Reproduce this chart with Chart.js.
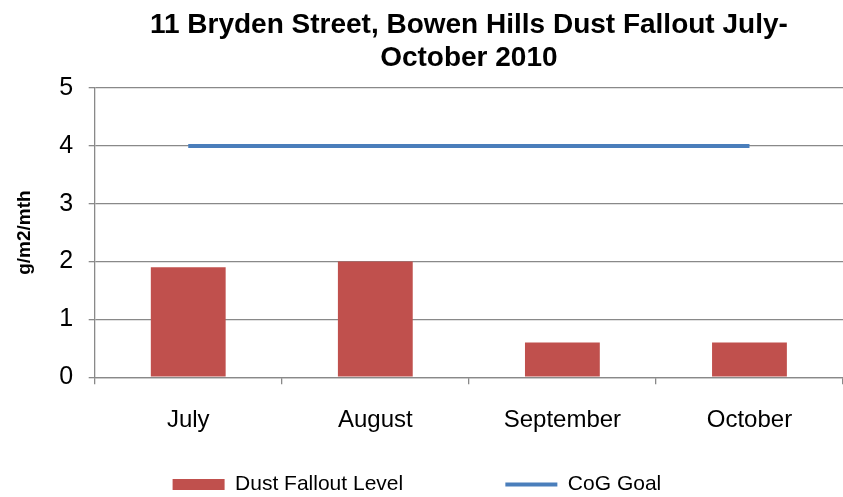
<!DOCTYPE html>
<html>
<head>
<meta charset="utf-8">
<script src="https://cdn.jsdelivr.net/npm/chart.js@4"></script>
<style>
  html, body { margin: 0; padding: 0; background: #fff; }
  #wrap { width: 843px; height: 497px; }
</style>
</head>
<body>
<div id="wrap"><canvas id="dustChart" width="843" height="497"></canvas></div>
<script>
// chart data
const months = ['July', 'August', 'September', 'October'];
const dustLevels = [1.9, 2.0, 0.6, 0.6];
const cogGoal = [4, 4, 4, 4];
const yTicks = [0, 1, 2, 3, 4, 5];

const gridGray = '#898989';
const fontFamily = '"Liberation Sans", Arial, sans-serif';

const ctx = document.getElementById('dustChart').getContext('2d');

new Chart(ctx, {
    data: {
        labels: months,
        datasets: [{
            type: 'line',
            label: 'CoG Goal',
            data: cogGoal,
            borderColor: '#4a7ebb',
            backgroundColor: '#4a7ebb',
            borderWidth: 4,
            pointRadius: 0,
            pointStyle: 'line',
            order: 0
        }, {
            type: 'bar',
            label: 'Dust Fallout Level',
            data: dustLevels,
            backgroundColor: '#c0504d',
            borderWidth: 0,
            categoryPercentage: 1,
            barPercentage: 0.4,
            order: 1
        }]
    },
    options: {
        responsive: false,
        animation: false,
        layout: {
            padding: { left: 13, right: -7, top: 0, bottom: -8 }
        },
        plugins: {
            title: {
                display: true,
                fullSize: false,
                text: ['11 Bryden Street, Bowen Hills Dust Fallout July-', 'October 2010'],
                color: '#000',
                font: { family: fontFamily, size: 28, weight: 'bold', lineHeight: 1.18 },
                padding: { top: 9, bottom: 13 }
            },
            legend: {
                position: 'bottom',
                reverse: true,
                labels: {
                    color: '#000',
                    font: { family: fontFamily, size: 21 },
                    usePointStyle: true,
                    pointStyleWidth: 52,
                    boxHeight: 11,
                    padding: 3,
                    generateLabels: function(chart) {
                        const items = Chart.defaults.plugins.legend.labels.generateLabels(chart);
                        // spacing to place the two entries like the original
                        items.forEach(function(item) {
                            if (item.text === 'Dust Fallout Level') {
                                item.pointStyle = 'rect';
                                item.lineWidth = 0;
                                item.text = item.text + '\u00a0'.repeat(17);
                            } else {
                                item.pointStyle = 'line';
                                item.lineWidth = 4;
                                item.text = item.text + '\u00a0'.repeat(5);
                            }
                        });
                        return items;
                    }
                }
            },
            tooltip: { enabled: false }
        },
        scales: {
            x: {
                offset: true,
                grid: {
                    offset: true,
                    drawOnChartArea: false,
                    color: gridGray,
                    lineWidth: 1.3,
                    tickLength: 7
                },
                border: { color: gridGray, width: 1.3 },
                ticks: {
                    color: '#000',
                    padding: 22,
                    font: { family: fontFamily, size: 24 }
                },
                afterFit: function(axis) {
                    // extra room between month labels and legend
                    axis.height += 14;
                }
            },
            y: {
                min: 0,
                max: 5,
                afterBuildTicks: function(axis) {
                    axis.ticks = yTicks.map(v => ({ value: v }));
                },
                grid: {
                    color: gridGray,
                    lineWidth: 1.3,
                    tickLength: 6
                },
                border: { color: gridGray, width: 1.3 },
                ticks: {
                    color: '#000',
                    padding: 15.5,
                    font: { family: fontFamily, size: 25 }
                },
                title: {
                    display: true,
                    text: 'g/m2/mth',
                    color: '#000',
                    font: { family: fontFamily, size: 19, weight: 'bold' },
                    padding: { top: 0, bottom: 8 }
                }
            }
        }
    }
});
</script>
</body>
</html>
